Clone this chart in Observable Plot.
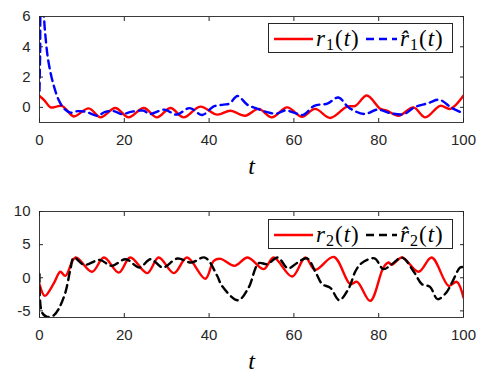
<!DOCTYPE html>
<html><head><meta charset="utf-8">
<script src="https://cdn.jsdelivr.net/npm/d3@7"></script>
<script src="https://cdn.jsdelivr.net/npm/@observablehq/plot@0.6"></script>
<style>
body{margin:0;background:#fff;}
#wrap{position:relative;width:497px;height:391px;background:#fff;overflow:hidden;}
.panel{position:absolute;left:0;}
.legend{position:absolute;background:#fff;border:1px solid #262626;box-sizing:border-box;}
.legend svg{position:absolute;left:0;top:0;}
</style></head><body><div id="wrap"></div>
<script>
// ---- data ----
const xTicks = [0, 20, 40, 60, 80, 100];
const yTicksTop = [0, 2, 4, 6];
const yTicksBot = [-5, 0, 5, 10];

const tR1 = [0, 1.2, 2.6, 4, 5.3, 6.5, 8.1, 11.6, 14.4, 17.9, 21, 24.6, 27.7, 30.9, 34, 37.9, 41.9, 45, 48.5, 51.7, 54.8, 58.4, 61.9, 65, 68.6, 72.5, 74.5, 77.2, 80.4, 81.8, 84.7, 88.2, 91, 94.5, 96.9, 100];
const vR1 = [0.75, 0.45, 0.0, 0.05, 0.1, -0.2, -0.6, -0.07, -0.66, -0.04, -0.66, -0.04, -0.66, -0.04, -0.66, 0.05, -0.48, -0.22, -0.55, -0.1, -0.66, 0.0, -0.62, -0.1, -0.7, 0.05, 0.1, 0.78, -0.1, -0.2, -0.55, 0.0, -0.66, 0.1, -0.1, 0.78];

const tR1h = [0, 0.15, 0.4, 0.9, 1.3, 1.9, 2.6, 3.4, 4.5, 5.7, 7.3, 9, 11, 13.6, 15.5, 17.5, 19.5, 21.5, 24.5, 26, 29.5, 32.3, 35.4, 38.4, 41, 43.4, 44.8, 46.7, 49, 51.4, 53.5, 55.9, 58, 60.5, 62.2, 64.8, 67.9, 70.5, 73, 76.6, 79.7, 83, 86, 88.4, 91.7, 94.3, 97.3, 100];
const vR1h = [1.1, 3.5, 6.8, 6.3, 5.0, 3.4, 2.3, 1.4, 0.5, -0.05, -0.35, -0.25, -0.3, -0.55, -0.3, -0.25, -0.45, -0.3, -0.22, -0.44, -0.15, -0.48, -0.05, -0.5, 0.05, 0.18, 0.25, 0.75, 0.18, -0.1, -0.3, -0.42, -0.2, -0.4, -0.5, 0.1, 0.25, 0.65, -0.02, -0.44, -0.15, -0.4, -0.44, 0.0, 0.28, 0.5, -0.05, -0.4];

const tR2 = [0, 1.25, 3.4, 4.9, 6.1, 8.5, 12.4, 15.2, 18.7, 21.4, 25.4, 28.1, 31.7, 34.8, 39.1, 41.1, 42.7, 46.0, 49.1, 52.9, 55.2, 59.6, 62.7, 65, 69.4, 73.3, 74.9, 78, 81.1, 82.3, 83.1, 85.5, 89.4, 92.5, 96.5, 98.4, 100];
const vR2 = [-0.97, -2.73, -0.82, 0.9, 0.29, 3.05, 0.9, 3.05, 0.78, 3.05, 0.7, 3.05, 0.7, 3.05, -0.15, 2.55, 2.85, 1.8, 3.05, 1.3, 3.05, 0.18, 3.05, 1.2, 3.15, -0.97, -0.62, -3.49, 1.54, 2.3, 1.95, 3.05, 0.9, 3.05, -1.22, -0.62, -3.0];

const tR2h = [0, 0.6, 1.8, 3.4, 4.5, 6.1, 7.3, 8.1, 10.6, 14.2, 17, 20.3, 23.6, 26.2, 29.1, 32.5, 35.8, 39, 41.9, 43, 46.8, 49.3, 51.7, 53.7, 56.2, 58.6, 60.9, 63.1, 65.3, 66.7, 68.6, 70.7, 73, 74.5, 75.9, 79, 81.1, 83.1, 85.5, 88.4, 90.2, 92.1, 93.9, 95.9, 97.3, 99.2, 100];
const vR2h = [0.54, -5.25, -5.9, -5.65, -4.74, -2.23, 1.3, 3.05, 1.95, 2.7, 1.8, 2.8, 1.55, 2.8, 1.55, 2.9, 2.3, 3.05, 0.3, -1.2, -3.4, -1.5, 2.2, 2.05, 3.05, 1.42, 2.3, 2.93, 0.59, -0.97, -1.52, -3.38, -1.52, 0.97, 2.17, 2.93, 1.3, 2.05, 3.05, 0.78, -0.97, -1.37, -3.23, -2.28, -0.72, 1.54, 1.6];

// ---- drawing ----
const AX = "#262626";
const wrap = document.getElementById("wrap");

function zip(ts, vs) { return ts.map((t, i) => ({t, v: vs[i]})); }

function panel({series, yDomain, yTicks, top, height, mt, mb}) {
  const plot = Plot.plot({
    width: 497, height,
    marginTop: mt, marginBottom: mb, marginLeft: 39, marginRight: 34,
    style: {fontFamily: "'Liberation Sans', Arial, sans-serif", fontSize: "15px", color: AX, background: "transparent"},
    x: {domain: [0, 100], label: null},
    y: {domain: yDomain, label: null},
    marks: [
      ...series.map(s => Plot.line(zip(s.t, s.v), {x: "t", y: "v", stroke: s.color, strokeWidth: 2.4, strokeDasharray: s.dash, curve: "catmull-rom", clip: true})),
      Plot.frame({stroke: AX, strokeWidth: 0.9}),
      Plot.axisX({ticks: xTicks, tickSize: 0, tickPadding: 12, tickFormat: d => String(d), fill: AX, label: null}),
      Plot.axisX({ticks: xTicks, anchor: "bottom", tickSize: -4, text: null, stroke: AX, label: null}),
      Plot.axisX({ticks: xTicks, anchor: "top", tickSize: -4, text: null, stroke: AX, label: null}),
      Plot.axisY({ticks: yTicks, tickSize: 0, tickPadding: 9, tickFormat: d => String(d), fill: AX, label: null}),
      Plot.axisY({ticks: yTicks, anchor: "left", tickSize: -4, text: null, stroke: AX, label: null}),
      Plot.axisY({ticks: yTicks, anchor: "right", tickSize: -4, text: null, stroke: AX, label: null}),
      Plot.text(["t"], {frameAnchor: "bottom", dy: 51, text: d => d, fontStyle: "italic", fontFamily: "'Liberation Serif', serif", fontSize: 24, fill: "#000"})
    ]
  });
  plot.classList.add("panel");
  plot.style.top = top + "px";
  wrap.appendChild(plot);
}

panel({series: [
  {t: tR1, v: vR1, color: "#ff0000", dash: null},
  {t: tR1h, v: vR1h, color: "#0000ff", dash: "8,5"}
], yDomain: [-1, 6], yTicks: yTicksTop, top: 0, height: 195, mt: 16, mb: 73});

panel({series: [
  {t: tR2, v: vR2, color: "#ff0000", dash: null},
  {t: tR2h, v: vR2h, color: "#000000", dash: "8,5"}
], yDomain: [-6, 10], yTicks: yTicksBot, top: 195, height: 196, mt: 16, mb: 74});

// legends
const legendItems = [
  {top: 23, sub: "1", c1: "#ff0000", c2: "#0000ff"},
  {top: 219, sub: "2", c1: "#ff0000", c2: "#000000"}
];
legendItems.forEach(L => {
  const div = document.createElement("div");
  div.className = "legend";
  div.style.left = "268px"; div.style.top = L.top + "px";
  div.style.width = "185px"; div.style.height = "30px";
  const ns = "http://www.w3.org/2000/svg";
  const svg = document.createElementNS(ns, "svg");
  svg.setAttribute("width", 185); svg.setAttribute("height", 30);
  const F = `font-family="'Liberation Serif', serif" font-size="23" fill="#000"`;
  svg.innerHTML =
    `<line x1="5" x2="44" y1="15" y2="15" stroke="${L.c1}" stroke-width="2.4"/>` +
    `<line x1="97" x2="128" y1="15" y2="15" stroke="${L.c2}" stroke-width="2.4" stroke-dasharray="8,5"/>` +
    `<text x="47" y="22" ${F}>` +
      `<tspan font-style="italic">r</tspan><tspan font-size="16" dy="4" dx="1">${L.sub}</tspan><tspan dy="-4" dx="1">(</tspan><tspan font-style="italic" dx="1">t</tspan><tspan dx="1">)</tspan></text>` +
    `<text x="131" y="22" ${F}>` +
      `<tspan font-style="italic">r\u0302</tspan><tspan font-size="16" dy="4" dx="1">${L.sub}</tspan><tspan dy="-4" dx="1">(</tspan><tspan font-style="italic" dx="1">t</tspan><tspan dx="1">)</tspan></text>`;
  div.appendChild(svg);
  wrap.appendChild(div);
});
</script></body></html>
